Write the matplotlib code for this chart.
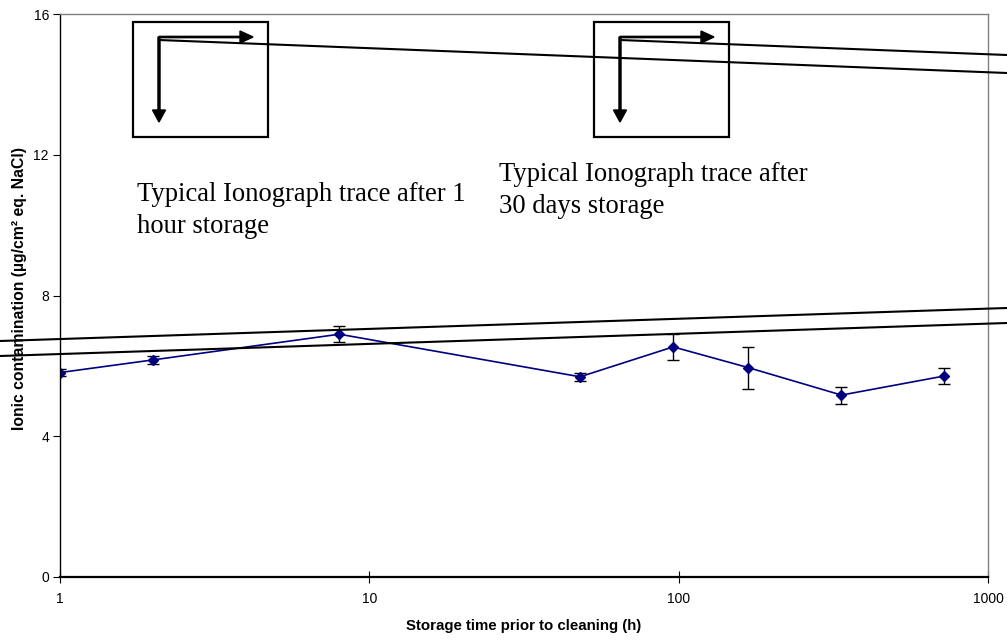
import matplotlib
matplotlib.use("Agg")
import matplotlib.pyplot as plt
from matplotlib.lines import Line2D
from matplotlib.patches import Rectangle, FancyArrow

# storage time (h) and mean ionic contamination with spread
storage_h = [1, 2, 8, 48, 96, 168, 336, 720]
contamination = [5.81, 6.17, 6.90, 5.69, 6.54, 5.95, 5.17, 5.71]
contamination_err = [0.10, 0.11, 0.22, 0.11, 0.36, 0.60, 0.24, 0.23]

x_ticks = [1, 10, 100, 1000]
x_tick_labels = ["1", "10", "100", "1000"]
y_ticks = [0, 4, 8, 12, 16]

W, H = 1007, 641
fig = plt.figure(figsize=(W / 100, H / 100), dpi=100)
ax = fig.add_axes([60 / W, 1 - 577 / H, 928 / W, 563 / H])

ax.errorbar(storage_h, contamination, yerr=contamination_err,
            color="#000080", lw=1.2, marker="D", ms=5.5,
            ecolor="black", elinewidth=1.0, capsize=4, capthick=1.0)

ax.set_xscale("log")
ax.set_xlim(1, 1000)
ax.set_ylim(0, 16)
ax.set_xticks(x_ticks)
ax.set_xticklabels(x_tick_labels)
ax.minorticks_off()
ax.set_yticks(y_ticks)

for lab in ax.get_xticklabels() + ax.get_yticklabels():
    lab.set_fontfamily("Liberation Sans")
    lab.set_fontsize(10)
ax.tick_params(axis="x", direction="inout", length=8, width=0.8, pad=7)
ax.tick_params(axis="y", direction="out", length=5, width=0.8, pad=3)

for side in ("top", "right"):
    ax.spines[side].set_color("#808080")
    ax.spines[side].set_linewidth(1.0)
ax.spines["left"].set_linewidth(1.0)
ax.spines["bottom"].set_linewidth(1.6)

ax.set_xlabel("Storage time prior to cleaning (h)", labelpad=9,
              family="Liberation Sans", size=10.8, weight="bold")
ax.set_ylabel("Ionic contamination (µg/cm² eq. NaCl)",
              family="Liberation Sans", size=11.3, weight="bold")
ax.yaxis.set_label_coords(-0.036, 0.512)


def px(x, y):
    return x / W, 1 - y / H


# inset boxes for the Ionograph traces, with their axis arrows
inset_boxes = [(133, 22, 268, 137), (594, 22, 729, 137)]
for x0, y0, x1, y1 in inset_boxes:
    fx0, fy1 = px(x0, y1)
    fx1, fy0 = px(x1, y0)
    fig.add_artist(Rectangle((fx0, fy1), fx1 - fx0, fy0 - fy1,
                             transform=fig.transFigure, fill=False,
                             ec="black", lw=1.6))
    ox, oy = x0 + 26, y0 + 15
    fig.add_artist(FancyArrow(*px(ox, oy), 0, -(122 - oy) / H,
                              transform=fig.transFigure, width=1.3 / H,
                              head_width=13 / W, head_length=12 / H,
                              length_includes_head=True, color="black"))
    fig.add_artist(FancyArrow(*px(ox, oy), (x0 + 120 - ox) / W, 0,
                              transform=fig.transFigure, width=1.3 / H,
                              head_width=12 / H, head_length=13 / W,
                              length_includes_head=True, color="black"))

# trace lines running out of the insets and across the plot
trace_lines = [
    ((159, 40), (1007, 73)),
    ((620, 40), (1007, 55)),
    ((0, 341), (1007, 308)),
    ((0, 356), (1007, 323)),
]
for (xa, ya), (xb, yb) in trace_lines:
    (fa, ga), (fb, gb) = px(xa, ya), px(xb, yb)
    fig.add_artist(Line2D([fa, fb], [ga, gb], transform=fig.transFigure,
                          color="black", lw=1.5))

# notes under the insets (baseline of the second line given)
note_font = dict(family="Liberation Serif", size=19.2)
fig.text(*px(137, 233), "Typical Ionograph trace after 1\nhour storage",
         ha="left", va="baseline", linespacing=1.38, **note_font)
fig.text(*px(499, 213), "Typical Ionograph trace after\n30 days storage",
         ha="left", va="baseline", linespacing=1.38, **note_font)

fig.savefig("out.png", dpi=100, facecolor="white")
